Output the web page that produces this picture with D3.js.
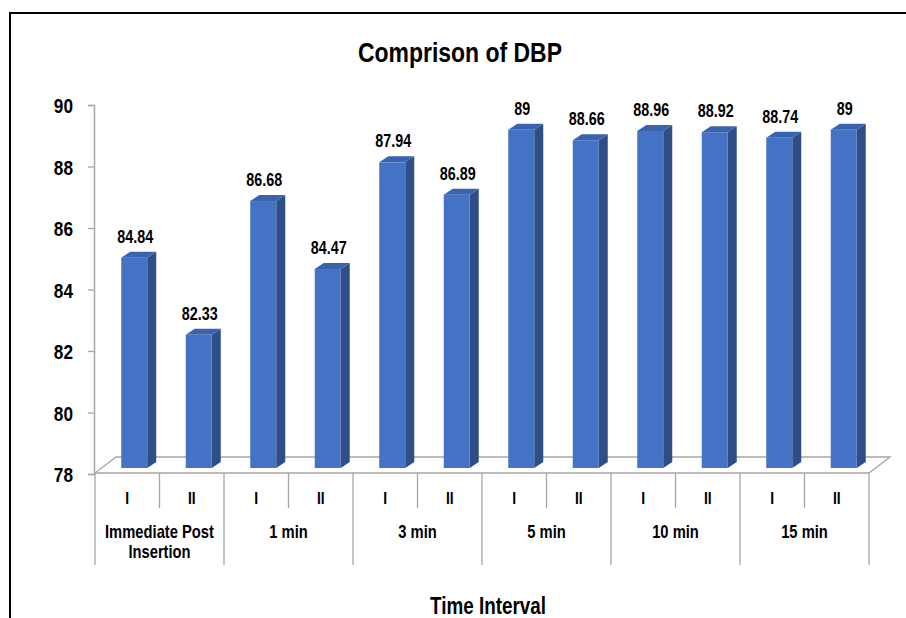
<!DOCTYPE html>
<html>
<head>
<meta charset="utf-8">
<script src="https://cdn.jsdelivr.net/npm/d3@7/dist/d3.min.js"></script>
<style>
  html, body { margin: 0; padding: 0; background: #fff; }
  svg { display: block; font-family: "Liberation Sans", Arial, sans-serif; }
</style>
</head>
<body>
<svg id="chart" width="906" height="618"></svg>
<script>
// Diastolic blood pressure by time interval, groups I and II
const groups = ["Immediate Post Insertion", "1 min", "3 min", "5 min", "10 min", "15 min"];
const subGroups = ["I", "II"];
const groupI = [84.84, 86.68, 87.94, 89, 88.96, 88.74];
const groupII = [82.33, 84.47, 86.89, 88.66, 88.92, 89];
const yTicks = [78, 80, 82, 84, 86, 88, 90];

const NARROW = 0.82; // horizontal squeeze for a condensed look
const svg = d3.select("#chart");
const W = 906, H = 618;

// condensed bold label helper
function label(parent, x, y, str, size, anchor = "middle") {
  const g = parent.append("g").attr("transform", `translate(${x},${y}) scale(${NARROW},1)`);
  g.append("text").attr("text-anchor", anchor).attr("font-size", size)
    .attr("font-weight", "bold").attr("fill", "#000").text(str);
  return g;
}

// outer frame
svg.append("rect").attr("x", 10).attr("y", 13).attr("width", W + 10).attr("height", H + 10)
  .attr("fill", "none").attr("stroke", "#000").attr("stroke-width", 2);

// flatten into one row per bar
const rows = [];
groups.forEach((g, i) => {
  rows.push({ g, s: subGroups[0], v: groupI[i], key: g + "|I" });
  rows.push({ g, s: subGroups[1], v: groupII[i], key: g + "|II" });
});

const x0 = 95, x1 = 869;
const x = d3.scaleBand().domain(rows.map(r => r.key)).range([x0, x1]).paddingInner(0).paddingOuter(0);
const y = d3.scaleLinear().domain([78, 90]).range([474, 105]);

// 3D depth offsets
const floorDx = 21, floorDy = -16;
const barShift = 7, barDy = -6, barDepthX = 9, barDepthY = -6, barW = 26;

// floor
const floorY = y(78) - 1;
svg.append("path")
  .attr("d", `M${x0},${floorY} L${x1},${floorY} L${x1 + floorDx},${floorY + floorDy} L${x0 + floorDx},${floorY + floorDy} Z`)
  .attr("fill", "none").attr("stroke", "#a6a6a6").attr("stroke-width", 1.3);

// value axis
const yAxis = d3.axisLeft(y).tickValues(yTicks).tickSize(6).tickPadding(15).tickFormat(d3.format("d"));
const ga = svg.append("g").attr("transform", `translate(${x0 - 1},0)`).call(yAxis);
ga.select(".domain").attr("stroke", "#a6a6a6").attr("stroke-width", 1.5);
ga.selectAll(".tick line").attr("stroke", "#a6a6a6").attr("stroke-width", 1.3);
ga.selectAll(".tick text")
  .attr("x", 0).attr("dy", "0.36em")
  .attr("transform", `translate(-21,0) scale(${NARROW},1)`)
  .attr("font-size", 21).attr("font-weight", "bold")
  .attr("fill", "#000").attr("font-family", "Liberation Sans, Arial, sans-serif");

// bars
const frontColor = "#4472c4", sideColor = "#2e4e86", capColor = "#3a63ad";
const base = y(78) + barDy;
const bars = svg.append("g");
rows.forEach(r => {
  const bx = x(r.key) + (x.bandwidth() - barW) / 2 + barShift;
  const ty = y(r.v) + barDy;
  const g = bars.append("g");
  g.append("path")
    .attr("d", `M${bx + barW},${ty} L${bx + barW + barDepthX},${ty + barDepthY} L${bx + barW + barDepthX},${base + barDepthY} L${bx + barW},${base} Z`)
    .attr("fill", sideColor);
  g.append("path")
    .attr("d", `M${bx},${ty} L${bx + barDepthX},${ty + barDepthY} L${bx + barW + barDepthX},${ty + barDepthY} L${bx + barW},${ty} Z`)
    .attr("fill", capColor);
  g.append("rect").attr("x", bx).attr("y", ty).attr("width", barW).attr("height", base - ty)
    .attr("fill", frontColor);
  label(g, bx + barW / 2 + 1, ty + barDepthY - 9, String(r.v), 17.5);
});

// category axis: sub labels and group labels with divider lines
const axisTop = floorY;
const cat = svg.append("g").attr("stroke", "#a6a6a6").attr("stroke-width", 1.3);
cat.append("line").attr("x1", x0).attr("x2", x0).attr("y1", axisTop).attr("y2", 565);
rows.forEach((r, i) => {
  const right = x(r.key) + x.bandwidth();
  const isGroupEnd = i % 2 === 1;
  cat.append("line").attr("x1", right).attr("x2", right)
    .attr("y1", axisTop).attr("y2", isGroupEnd ? 565 : 508);
});
rows.forEach(r => {
  label(svg, x(r.key) + x.bandwidth() / 2, 504, r.s, 17);
});
groups.forEach(g => {
  const cx = x(g + "|I") + x.bandwidth();
  if (g === "Immediate Post Insertion") {
    label(svg, cx, 538, "Immediate Post", 18);
    label(svg, cx, 558, "Insertion", 18);
  } else {
    label(svg, cx, 538, g, 18);
  }
});

// titles
label(svg, 460, 62, "Comprison of DBP", 28);
label(svg, 488, 614, "Time Interval", 23);
</script>
</body>
</html>
